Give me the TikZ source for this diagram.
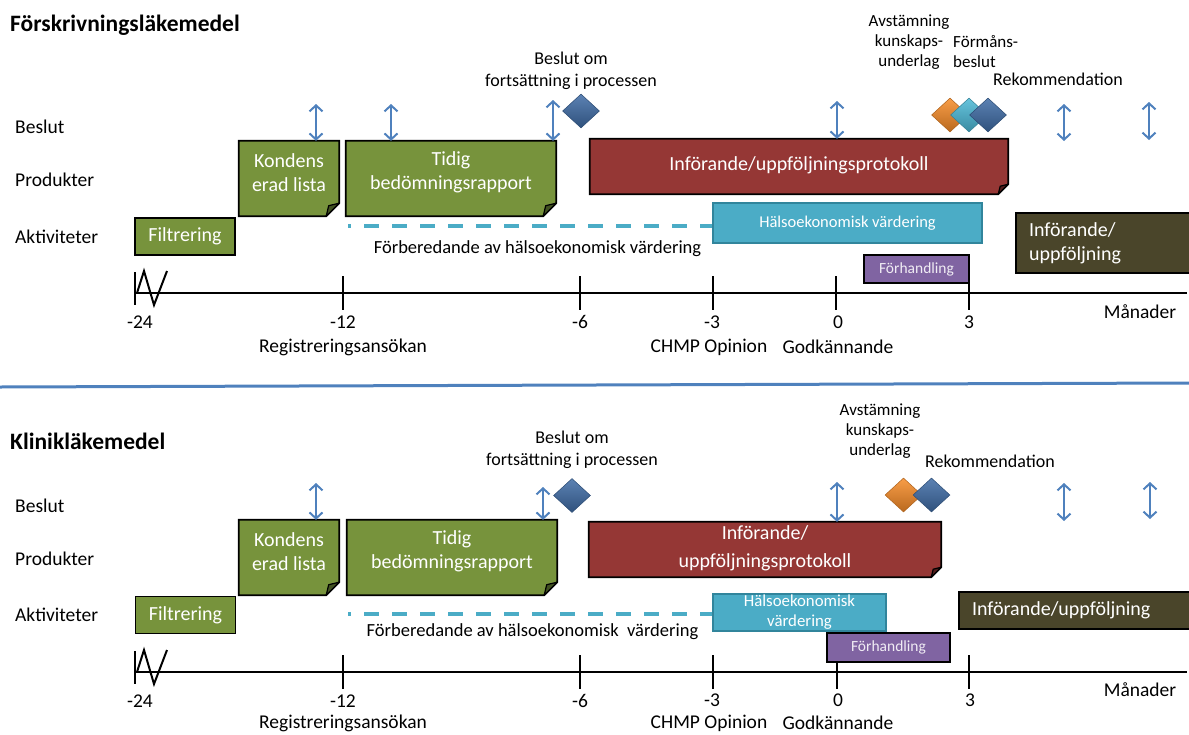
\documentclass[tikz,border=0pt]{standalone}
\usepackage{fontspec}
\setmainfont{Carlito}
\usetikzlibrary{arrows.meta,shapes.geometric}
\definecolor{boxgreen}{RGB}{119,147,60}
\definecolor{boxred}{RGB}{149,55,53}
\definecolor{boxcyan}{RGB}{75,172,198}
\definecolor{cyanedge}{RGB}{49,133,156}
\definecolor{boxpurple}{RGB}{128,100,162}
\definecolor{boxolive}{RGB}{74,69,42}
\definecolor{arrowblue}{RGB}{79,129,189}
\definecolor{diaorange}{RGB}{247,140,40}
\definecolor{diacyan}{RGB}{75,185,215}
\definecolor{diablue}{RGB}{63,108,166}

\begin{document}
\begin{tikzpicture}[x=1pt, y=-1pt,
  lbl/.style={font=\fontsize{19.5}{23}\selectfont, inner sep=0pt},
  rowlbl/.style={lbl, anchor=west},
  ttl/.style={font=\bfseries\fontsize{23.5}{28}\selectfont, anchor=west, inner sep=0pt},
  note/.style={font=\fontsize{18}{22}\selectfont, align=center, inner sep=0pt},
  small/.style={font=\fontsize{17}{20}\selectfont, align=center, inner sep=0pt},
  slot/.style={inner sep=0pt},
  box/.style={draw=black, line width=1.8pt, text=white, font=\fontsize{20}{24}\selectfont, align=center, inner sep=0pt},
  foldedge/.style={draw=black, line width=1.8pt, line join=miter},
  boxtxt/.style={text=white, font=\fontsize{20}{23.5}\selectfont, align=center, inner sep=0pt},
  fold/.style={fill=#1!55!black, draw=black, line width=1.2pt, line join=round},
  hv/.style={fill=boxcyan, draw=cyanedge, line width=1.2pt, text=white, font=\fontsize{16.5}{20}\selectfont, align=center, inner sep=0pt},
  neg/.style={box, fill=boxpurple, text=white!88!boxpurple, font=\fontsize{15.5}{18}\selectfont},
  impl/.style={box, fill=boxolive, align=left, inner xsep=13pt},
  dia/.style={diamond, minimum width=37pt, minimum height=34pt, inner sep=0pt, draw=#1!70!black, line width=0.5pt, top color=#1!85!white, bottom color=#1!75!black},
  dbl/.style={arrowblue, line width=2pt, {Straight Barb[length=6pt,width=13pt]}-{Straight Barb[length=6pt,width=13pt]}},
  prep/.style={boxcyan, line width=3.5pt, dash pattern=on 15pt off 13pt, dash phase=12pt},
  axis/.style={line width=2.5pt},
  sep/.style={arrowblue, line width=3pt},
]
\useasboundingbox (0,0) rectangle (1189,734);

% Forskrivningslakemedel
\node[ttl] (ttlA) at (10,25) {Förskrivningsläkemedel};
\node[rowlbl] (beslutA) at (15,127) {Beslut};
\node[rowlbl] (prodA) at (15,180) {Produkter};
\node[rowlbl] (aktA) at (15,237) {Aktiviteter};

\coordinate (axA) at (135,293);
\coordinate (axAend) at (1187,293);
\draw[axis] (axA) -- (axAend);
\draw[axis] ([yshift=21pt]axA) -- ([yshift=-12pt]axA);
\draw[line width=2pt] ([xshift=2pt]axA) -- ++(7,-22) -- ++(10,34) -- ++(13,-34);
\coordinate (tA12) at (343,293); \draw[axis] ([yshift=17pt]tA12) -- ([yshift=-17pt]tA12);
\coordinate (tA6) at (580,293);  \draw[axis] ([yshift=17pt]tA6) -- ([yshift=-17pt]tA6);
\coordinate (tA3) at (713,293);  \draw[axis] ([yshift=17pt]tA3) -- ([yshift=-17pt]tA3);
\coordinate (tA0) at (836,293);  \draw[axis] ([yshift=17pt]tA0) -- ([yshift=-17pt]tA0);
\coordinate (tAp3) at (969,293); \draw[axis] ([yshift=17pt]tAp3) -- ([yshift=-17pt]tAp3);

\node[lbl] (nA24) at (140,322) {-24};
\node[lbl] (nA12) at (343,322) {-12};
\node[lbl] (nA6) at (580,322) {-6};
\node[lbl] (nA3) at (712,322) {-3};
\node[lbl] (nA0) at (838,322) {0};
\node[lbl] (nAp3) at (969,322) {3};
\node[lbl] (monA) at (1140,312) {Månader};
\node[lbl] (regA) at (343,347) {Registreringsansökan};
\node[lbl] (chmpA) at (709,347) {CHMP Opinion};
\node[lbl] (godkA) at (838,347) {Godkännande};

\node[box, fill=boxgreen, minimum width=100pt, minimum height=37pt] (filtA) at (185,236.5) {Filtrering};

\node[slot, minimum width=100pt, minimum height=75pt] (kondA) at (289,178.5) {};
\filldraw[foldedge, fill=boxgreen] (kondA.north west) -- (kondA.north east) -- ([yshift=13pt]kondA.south east) -- ([xshift=-13pt]kondA.south east) -- (kondA.south west) -- cycle;
\filldraw[fold=boxgreen] ([yshift=13pt]kondA.south east) -- ([xshift=-13pt]kondA.south east) -- ([shift={(-10.5,-10.5)}]kondA.south east) -- cycle;
\node[boxtxt] (kondAt) at ([yshift=6pt]kondA.center) {Kondens\\erad lista};

\node[slot, minimum width=210pt, minimum height=75pt] (tidA) at (451,178.5) {};
\filldraw[foldedge, fill=boxgreen] (tidA.north west) -- (tidA.north east) -- ([yshift=13pt]tidA.south east) -- ([xshift=-13pt]tidA.south east) -- (tidA.south west) -- cycle;
\filldraw[fold=boxgreen] ([yshift=13pt]tidA.south east) -- ([xshift=-13pt]tidA.south east) -- ([shift={(-10.5,-10.5)}]tidA.south east) -- cycle;
\node[boxtxt] (tidAt) at ([yshift=6pt]tidA.center) {Tidig\\bedömningsrapport};

\node[slot, minimum width=418pt, minimum height=55pt] (protA) at (799,166.5) {};
\filldraw[foldedge, fill=boxred] (protA.north west) -- (protA.north east) -- ([yshift=10pt]protA.south east) -- ([xshift=-10pt]protA.south east) -- (protA.south west) -- cycle;
\filldraw[fold=boxred] ([yshift=10pt]protA.south east) -- ([xshift=-10pt]protA.south east) -- ([shift={(-8,-8)}]protA.south east) -- cycle;
\node[boxtxt] (protAt) at ([yshift=1pt]protA.center) {Införande/uppföljningsprotokoll};

\node[hv, minimum width=269pt, minimum height=40pt] (hvA) at (847.5,223) {Hälsoekonomisk värdering};
\coordinate (prepA) at (348,226);
\draw[prep] (prepA) -- (prepA -| hvA.west);
\node[lbl, font=\fontsize{18.5}{22}\selectfont] (prepAl) at (537.5,249) {Förberedande av hälsoekonomisk värdering};
\node[neg, minimum width=105pt, minimum height=28pt] (negA) at (916.5,269) {Förhandling};
\node[impl, text width=150pt, minimum height=60pt] (implA) at (1104,243) {Införande/\\uppföljning};

\coordinate (aA1) at (316,104); \draw[dbl] (aA1) -- (aA1 |- kondA.north);
\coordinate (aA2) at (391,104); \draw[dbl] (aA2) -- (aA2 |- tidA.north);
\coordinate (aA3) at (553,100); \draw[dbl] (aA3) -- (aA3 |- tidA.north);
\coordinate (aA4) at (837,101); \draw[dbl] (aA4) -- (aA4 |- protA.north);
\coordinate (aA5) at (1064,104); \coordinate (aA5e) at (1064,141); \draw[dbl] (aA5) -- (aA5e);
\coordinate (aA6) at (1149,102); \coordinate (aA6e) at (1149,140); \draw[dbl] (aA6) -- (aA6e);

\node[dia=diablue] (decA) at (581,111) {};
\node[note] (decAl) at (571,71) {Beslut om\\fortsättning i processen};
\node[dia=diaorange] (avsA) at (950,115) {};
\node[dia=diacyan] (formA) at (969,115) {};
\node[dia=diablue] (rekA) at (988,115) {};
\node[small] (avsAl) at (909,42) {Avstämning\\kunskaps-\\underlag};
\node[small, align=left, anchor=west] (formAl) at (953,52) {Förmåns-\\beslut};
\node[note] (rekAl) at (1058,79) {Rekommendation};

% separator
\coordinate (sepL) at (0,387);
\coordinate (sepR) at (1189,383);
\draw[sep] (sepL) -- (sepR);

% Kliniklakemedel
\node[ttl] (ttlB) at (10,441) {Klinikläkemedel};
\node[rowlbl] (beslutB) at (15,506) {Beslut};
\node[rowlbl] (prodB) at (15,559) {Produkter};
\node[rowlbl] (aktB) at (15,615) {Aktiviteter};

\coordinate (axB) at (135,672);
\coordinate (axBend) at (1187,672);
\draw[axis] (axB) -- (axBend);
\draw[axis] ([yshift=21pt]axB) -- ([yshift=-12pt]axB);
\draw[line width=2pt] ([xshift=2pt]axB) -- ++(7,-22) -- ++(10,34) -- ++(13,-34);
\coordinate (tB12) at (343,672); \draw[axis] ([yshift=17pt]tB12) -- ([yshift=-17pt]tB12);
\coordinate (tB6) at (580,672);  \draw[axis] ([yshift=17pt]tB6) -- ([yshift=-17pt]tB6);
\coordinate (tB3) at (713,672);  \draw[axis] ([yshift=17pt]tB3) -- ([yshift=-17pt]tB3);
\coordinate (tB0) at (837,672);  \draw[axis] ([yshift=17pt]tB0) -- ([yshift=-17pt]tB0);
\coordinate (tBp3) at (969,672); \draw[axis] ([yshift=17pt]tBp3) -- ([yshift=-17pt]tBp3);

\node[lbl] (nB24) at (140,701) {-24};
\node[lbl] (nB12) at (343,701) {-12};
\node[lbl] (nB6) at (580,701) {-6};
\node[lbl] (nB3) at (712,700) {-3};
\node[lbl] (nB0) at (838,700) {0};
\node[lbl] (nBp3) at (970,700) {3};
\node[lbl] (monB) at (1140,690) {Månader};
\node[lbl] (regB) at (343,723) {Registreringsansökan};
\node[lbl] (chmpB) at (709,723) {CHMP Opinion};
\node[lbl] (godkB) at (838,723) {Godkännande};

\node[box, fill=boxgreen, minimum width=100pt, minimum height=37pt] (filtB) at (185.5,615) {Filtrering};

\node[slot, minimum width=100pt, minimum height=75pt] (kondB) at (289,557.5) {};
\filldraw[foldedge, fill=boxgreen] (kondB.north west) -- (kondB.north east) -- ([yshift=13pt]kondB.south east) -- ([xshift=-13pt]kondB.south east) -- (kondB.south west) -- cycle;
\filldraw[fold=boxgreen] ([yshift=13pt]kondB.south east) -- ([xshift=-13pt]kondB.south east) -- ([shift={(-10.5,-10.5)}]kondB.south east) -- cycle;
\node[boxtxt] (kondBt) at ([yshift=6pt]kondB.center) {Kondens\\erad lista};

\node[slot, minimum width=210pt, minimum height=75pt] (tidB) at (452,557.5) {};
\filldraw[foldedge, fill=boxgreen] (tidB.north west) -- (tidB.north east) -- ([yshift=13pt]tidB.south east) -- ([xshift=-13pt]tidB.south east) -- (tidB.south west) -- cycle;
\filldraw[fold=boxgreen] ([yshift=13pt]tidB.south east) -- ([xshift=-13pt]tidB.south east) -- ([shift={(-10.5,-10.5)}]tidB.south east) -- cycle;
\node[boxtxt] (tidBt) at ([yshift=6pt]tidB.center) {Tidig\\bedömningsrapport};

\node[slot, minimum width=352pt, minimum height=55pt] (protB) at (765,549.5) {};
\filldraw[foldedge, fill=boxred] (protB.north west) -- (protB.north east) -- ([yshift=10pt]protB.south east) -- ([xshift=-10pt]protB.south east) -- (protB.south west) -- cycle;
\filldraw[fold=boxred] ([yshift=10pt]protB.south east) -- ([xshift=-10pt]protB.south east) -- ([shift={(-8,-8)}]protB.south east) -- cycle;
\node[boxtxt, font=\fontsize{20}{28}\selectfont] (protBt) at ([yshift=1pt]protB.center) {Införande/\\uppföljningsprotokoll};

\node[hv, minimum width=173pt, minimum height=37pt, font=\fontsize{16.8}{20}\selectfont] (hvB) at (799.5,612.5) {Hälsoekonomisk\\värdering};
\coordinate (prepB) at (348,614);
\draw[prep] (prepB) -- (prepB -| hvB.west);
\node[lbl, font=\fontsize{18.5}{22}\selectfont] (prepBl) at (532.5,632) {Förberedande av hälsoekonomisk\ \ värdering};
\node[neg, minimum width=123pt, minimum height=29pt] (negB) at (888.5,647.5) {Förhandling};
\node[impl, text width=207pt, minimum height=37pt] (implB) at (1075.5,610.5) {Införande/uppföljning};

\coordinate (aB1) at (316,483); \draw[dbl] (aB1) -- (aB1 |- kondB.north);
\coordinate (aB2) at (543,487); \draw[dbl] (aB2) -- (aB2 |- tidB.north);
\coordinate (aB3) at (837,482); \draw[dbl] (aB3) -- (aB3 |- protB.north);
\coordinate (aB4) at (1064,483); \coordinate (aB4e) at (1064,521); \draw[dbl] (aB4) -- (aB4e);
\coordinate (aB5) at (1150,482); \coordinate (aB5e) at (1150,519); \draw[dbl] (aB5) -- (aB5e);

\node[dia=diablue] (decB) at (572,495.5) {};
\node[note] (decBl) at (572,450) {Beslut om\\fortsättning i processen};
\node[dia=diaorange] (avsB) at (903.5,495) {};
\node[dia=diablue] (rekB) at (931.5,495) {};
\node[small] (avsBl) at (880,431) {Avstämning\\kunskaps-\\underlag};
\node[note] (rekBl) at (990,461) {Rekommendation};
\end{tikzpicture}
\end{document}
